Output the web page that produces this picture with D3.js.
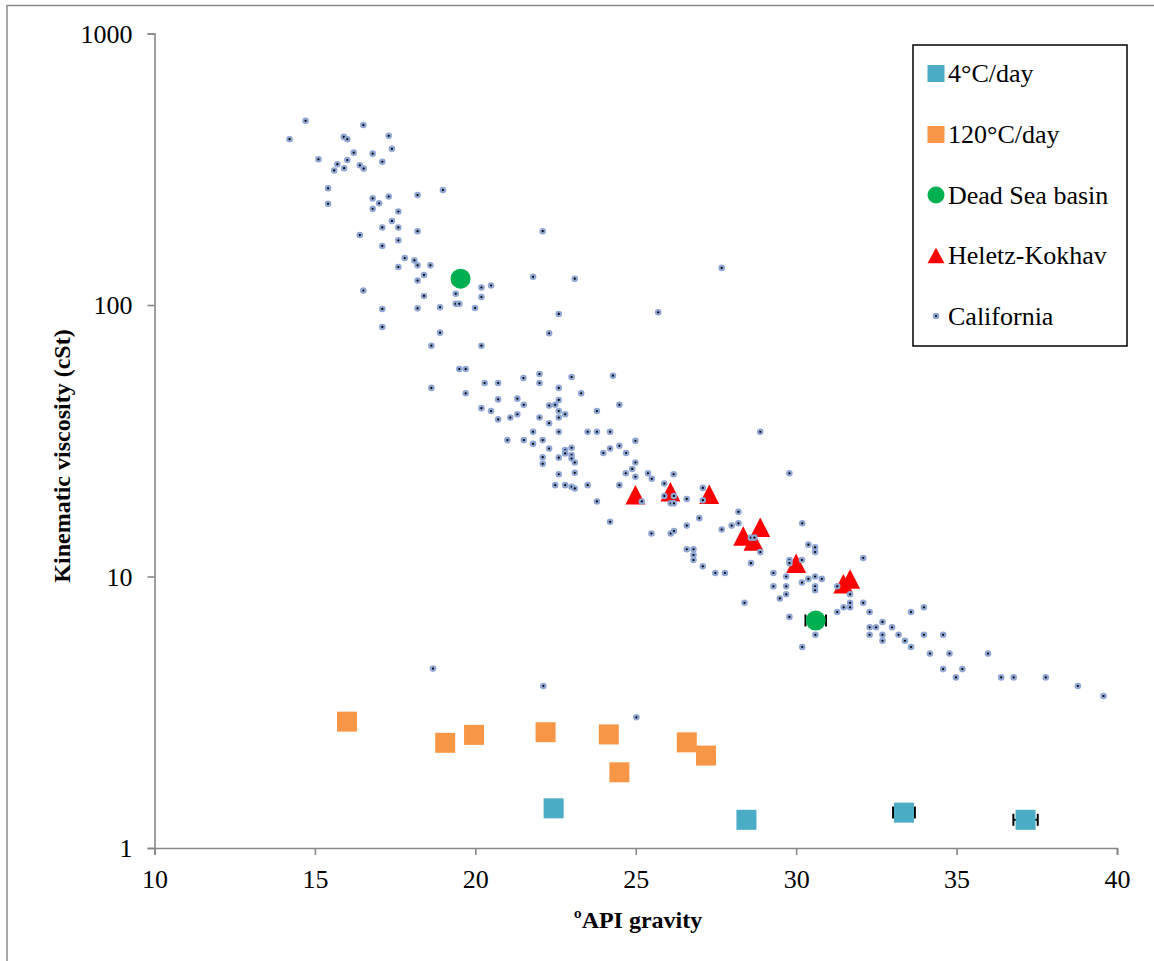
<!DOCTYPE html>
<html>
<head>
<meta charset="utf-8">
<script src="https://cdn.jsdelivr.net/npm/d3@7"></script>
<style>
  html, body { margin: 0; padding: 0; background: #ffffff; }
  svg { display: block; }
  text { font-family: "Liberation Serif", "Times New Roman", serif; fill: #000; }
</style>
</head>
<body>
<svg id="chart" width="1154" height="961"></svg>
<script>
// Heating-rate experiments: [API gravity, kinematic viscosity (cSt)]
const slowHeating = [[22.44, 1.40], [28.45, 1.27], [33.36, 1.35], [37.15, 1.27]];
const slowHeatingErr = [0, 0, 0.34, 0.38];
const fastHeating = [[16.00, 2.92], [19.06, 2.44], [19.96, 2.61], [22.19, 2.67],
                     [24.16, 2.62], [24.49, 1.90], [26.59, 2.45], [27.19, 2.19]];
// Natural oils
const deadSea = [[19.54, 125], [30.61, 6.88]];
const deadSeaErr = [0, 0.32];
const heletz = [[24.99, 20.0], [26.08, 20.5], [27.29, 20.1], [28.35, 14.1], [28.88, 15.2],
                [28.67, 13.5], [30.00, 11.2], [31.47, 9.4], [31.68, 9.8]];
const california = [
  [14.71,477],[14.21,408],[16.51,460],[15.90,416],[16.01,408],[17.30,420],[17.40,376],
  [15.11,344],[16.21,364],[16.80,361],[16.01,342],[17.10,337],[15.70,330],[15.60,313],
  [15.91,319],[16.40,327],[16.52,318],[15.41,269],[15.41,236],[16.80,247],[17.00,237],
  [17.30,251],[16.80,226],[18.20,254],[18.99,265],[17.60,221],[17.40,204],[17.10,193],
  [17.60,193],[18.20,187],[16.40,181],[17.60,173],[17.10,165],[17.80,149],[18.10,146],
  [17.60,138],[18.20,140],[18.60,140],[18.40,129],[18.20,123],[20.19,116],[20.49,118],
  [19.39,110],[20.19,107],[18.40,108],[16.51,113],[17.10,96.7],[18.20,97.2],[18.90,98.1],
  [19.39,101],[19.50,101],[19.99,97.5],[17.10,83.0],[18.90,79.1],[22.10,187],[21.80,127],
  [23.10,125],[22.60,92.7],[25.70,94.0],[22.30,78.7],[20.19,70.8],[18.63,70.8],[19.50,58.1],
  [19.70,58.1],[18.63,49.5],[19.70,47.3],[20.29,51.6],[20.71,51.6],[21.50,53.8],[22.00,55.7],
  [22.00,51.6],[23.00,54.3],[24.29,54.9],[22.60,49.5],[23.30,47.3],[20.71,44.9],[21.31,45.2],
  [21.51,42.9],[20.19,41.7],[20.49,40.7],[20.71,37.9],[21.09,38.5],[21.31,39.6],[22.30,42.6],
  [22.49,42.9],[22.60,44.7],[22.60,40.7],[22.80,39.6],[22.60,38.5],[22.00,38.5],[22.30,36.7],
  [23.79,40.7],[24.49,42.9],[21.80,34.1],[22.60,34.1],[23.50,34.1],[23.79,34.1],[24.20,34.1],
  [21.00,31.8],[21.51,31.8],[21.80,30.8],[22.10,31.8],[22.30,29.6],[22.10,27.5],[22.10,26.0],
  [22.60,27.4],[22.80,29.2],[23.00,29.8],[22.80,28.4],[23.00,28.0],[23.00,27.2],[23.10,26.3],
  [23.99,28.5],[24.20,29.6],[24.49,30.3],[24.70,28.5],[24.99,31.6],[24.99,26.3],[24.89,24.9],
  [24.69,24.0],[24.99,23.3],[25.38,24.0],[25.50,22.9],[26.18,23.8],[22.60,23.8],[23.10,24.1],
  [22.49,21.7],[22.80,21.7],[23.00,21.4],[23.10,21.1],[23.50,21.7],[24.49,21.7],[25.89,22.0],
  [28.88,34.1],[29.79,24.0],[23.79,18.9],[25.89,19.8],[26.19,19.8],[26.09,18.6],[26.19,18.6],
  [25.19,18.9],[26.59,19.3],[27.09,21.2],[27.09,19.1],[24.20,15.9],[25.49,14.4],[26.09,14.4],
  [26.19,14.7],[26.59,15.4],[26.98,16.4],[28.20,17.3],[28.20,15.7],[27.99,15.4],[27.68,14.9],
  [30.19,15.7],[26.59,12.6],[26.80,12.6],[26.80,12.0],[26.80,11.5],[27.09,10.9],[27.48,10.3],
  [27.78,10.3],[28.59,13.9],[28.70,13.9],[28.88,12.3],[28.59,11.2],[30.38,13.1],[30.59,12.8],
  [30.59,12.3],[29.79,11.5],[29.79,11.2],[30.18,11.5],[29.29,10.3],[29.69,10.0],[29.29,9.2],
  [29.69,9.2],[29.69,8.6],[29.49,8.3],[30.18,9.5],[30.38,9.8],[30.59,10.0],[30.80,9.8],
  [30.59,9.2],[30.59,8.9],[28.39,8.0],[29.79,7.1],[31.28,9.2],[31.68,8.6],[31.68,8.0],
  [31.68,7.7],[31.48,7.7],[31.28,7.4],[32.09,11.7],[32.09,8.0],[32.29,7.4],[30.60,6.1],
  [30.19,5.5],[32.29,6.5],[32.49,6.5],[32.29,6.1],[32.69,6.8],[32.69,6.1],[32.69,5.8],
  [32.99,6.5],[33.19,6.1],[33.39,5.8],[33.58,5.5],[33.58,7.4],[33.98,7.7],[33.98,6.1],
  [34.58,6.1],[34.17,5.2],[34.78,5.2],[35.98,5.2],[34.58,4.56],[35.18,4.56],[34.98,4.25],
  [36.39,4.25],[36.78,4.25],[37.78,4.25],[38.78,3.95],[39.58,3.63],[18.68,4.58],[22.12,3.95],
  [25.02,3.03],[27.68,137]
];

const xTicks = [10, 15, 20, 25, 30, 35, 40];
const yTicks = [1, 10, 100, 1000];
const legendLabels = ["4°C/day", "120°C/day", "Dead Sea basin", "Heletz-Kokhav", "California"];

const colors = { slow: "#4BACC6", fast: "#F79646", dead: "#00B050", heletz: "#FF0000",
                 calRing: "#8EA7D4", calCore: "#000000", axis: "#878787" };

const svg = d3.select("#chart");
svg.append("rect").attr("width", 1154).attr("height", 961).attr("fill", "#fff");
// outer frame (left and top edges visible)
svg.append("path").attr("d", "M7,961 V5.5 H1154")
   .attr("fill", "none").attr("stroke", "#8a8a8a").attr("stroke-width", 1.5);

const x = d3.scaleLinear().domain([10, 40]).range([154.5, 1117]);
const y = d3.scaleLog().domain([1, 1000]).range([848, 33.5]);

// axes
const xAxis = d3.axisBottom(x).tickValues(xTicks).tickSize(7).tickPadding(12).tickFormat(d3.format("d"));
const yAxis = d3.axisLeft(y).tickValues(yTicks).tickSize(7).tickPadding(15).tickFormat(d3.format("d"));

const gx = svg.append("g").attr("transform", `translate(0,${y(1)})`).call(xAxis);
const gy = svg.append("g").attr("transform", `translate(${x(10)},0)`).call(yAxis);
[gx, gy].forEach(g => {
  g.select(".domain").attr("stroke", colors.axis).attr("stroke-width", 1.6);
  g.selectAll(".tick line").attr("stroke", colors.axis).attr("stroke-width", 1.6);
  g.selectAll(".tick text").attr("font-family", "'Liberation Serif', 'Times New Roman', serif")
    .attr("font-size", 26).attr("fill", "#000");
});
gx.selectAll(".tick text").attr("dy", null).attr("y", 0).attr("transform", "translate(0,40)");
gy.selectAll(".tick text").attr("dy", "0.34em");

// axis titles
svg.append("text").attr("x", 638).attr("y", 928).attr("text-anchor", "middle")
   .attr("font-size", 24).attr("font-weight", "bold").text("ºAPI gravity");
svg.append("text").attr("transform", "translate(70,456) rotate(-90)").attr("text-anchor", "middle")
   .attr("font-size", 24).attr("font-weight", "bold").text("Kinematic viscosity (cSt)");

const plot = svg.append("g");

// horizontal error bars
function errorBars(data, errs) {
  data.forEach((d, i) => {
    const e = errs[i];
    if (!e) return;
    const x0 = x(d[0] - e), x1 = x(d[0] + e), yy = y(d[1]);
    plot.append("path")
      .attr("d", `M${x0},${yy} H${x1} M${x0},${yy - 6} V${yy + 6} M${x1},${yy - 6} V${yy + 6}`)
      .attr("stroke", "#000").attr("stroke-width", 2).attr("fill", "none");
  });
}
errorBars(slowHeating, slowHeatingErr);
errorBars(deadSea, deadSeaErr);

const sq = 20;
plot.selectAll(".slow").data(slowHeating).join("rect")
  .attr("x", d => x(d[0]) - sq / 2).attr("y", d => y(d[1]) - sq / 2)
  .attr("width", sq).attr("height", sq).attr("fill", colors.slow);
plot.selectAll(".fast").data(fastHeating).join("rect")
  .attr("x", d => x(d[0]) - sq / 2).attr("y", d => y(d[1]) - sq / 2)
  .attr("width", sq).attr("height", sq).attr("fill", colors.fast);
plot.selectAll(".dead").data(deadSea).join("circle")
  .attr("cx", d => x(d[0])).attr("cy", d => y(d[1])).attr("r", 10).attr("fill", colors.dead);

const tri = (w, h) => `M0,${-h / 2} L${w / 2},${h / 2} L${-w / 2},${h / 2} Z`;
plot.selectAll(".heletz").data(heletz).join("path")
  .attr("d", tri(20, 19.5))
  .attr("transform", d => `translate(${x(d[0])},${y(d[1])})`)
  .attr("fill", colors.heletz);

plot.selectAll(".cal").data(california).join("circle")
  .attr("cx", d => x(d[0])).attr("cy", d => y(d[1])).attr("r", 2.2)
  .attr("fill", colors.calCore).attr("stroke", colors.calRing).attr("stroke-width", 2.2);

// legend
const lg = svg.append("g");
lg.append("rect").attr("x", 913).attr("y", 45).attr("width", 214).attr("height", 301)
  .attr("fill", "#fff").attr("stroke", "#000").attr("stroke-width", 1.5);
const rowY = [73.5, 134.5, 195, 255.5, 316];
const mx = 936, ls = 17;
lg.append("rect").attr("x", mx - ls / 2).attr("y", rowY[0] - ls / 2).attr("width", ls).attr("height", ls).attr("fill", colors.slow);
lg.append("rect").attr("x", mx - ls / 2).attr("y", rowY[1] - ls / 2).attr("width", ls).attr("height", ls).attr("fill", colors.fast);
lg.append("circle").attr("cx", mx).attr("cy", rowY[2]).attr("r", 8.5).attr("fill", colors.dead);
lg.append("path").attr("d", tri(17, 15.5)).attr("transform", `translate(${mx},${rowY[3]})`).attr("fill", colors.heletz);
lg.append("circle").attr("cx", mx).attr("cy", rowY[4]).attr("r", 2.2)
  .attr("fill", colors.calCore).attr("stroke", colors.calRing).attr("stroke-width", 2.2);
lg.selectAll(".lt").data(legendLabels).join("text")
  .attr("x", 948).attr("y", (d, i) => rowY[i]).attr("dy", "0.33em")
  .attr("font-size", 26).text(d => d);
</script>
</body>
</html>
